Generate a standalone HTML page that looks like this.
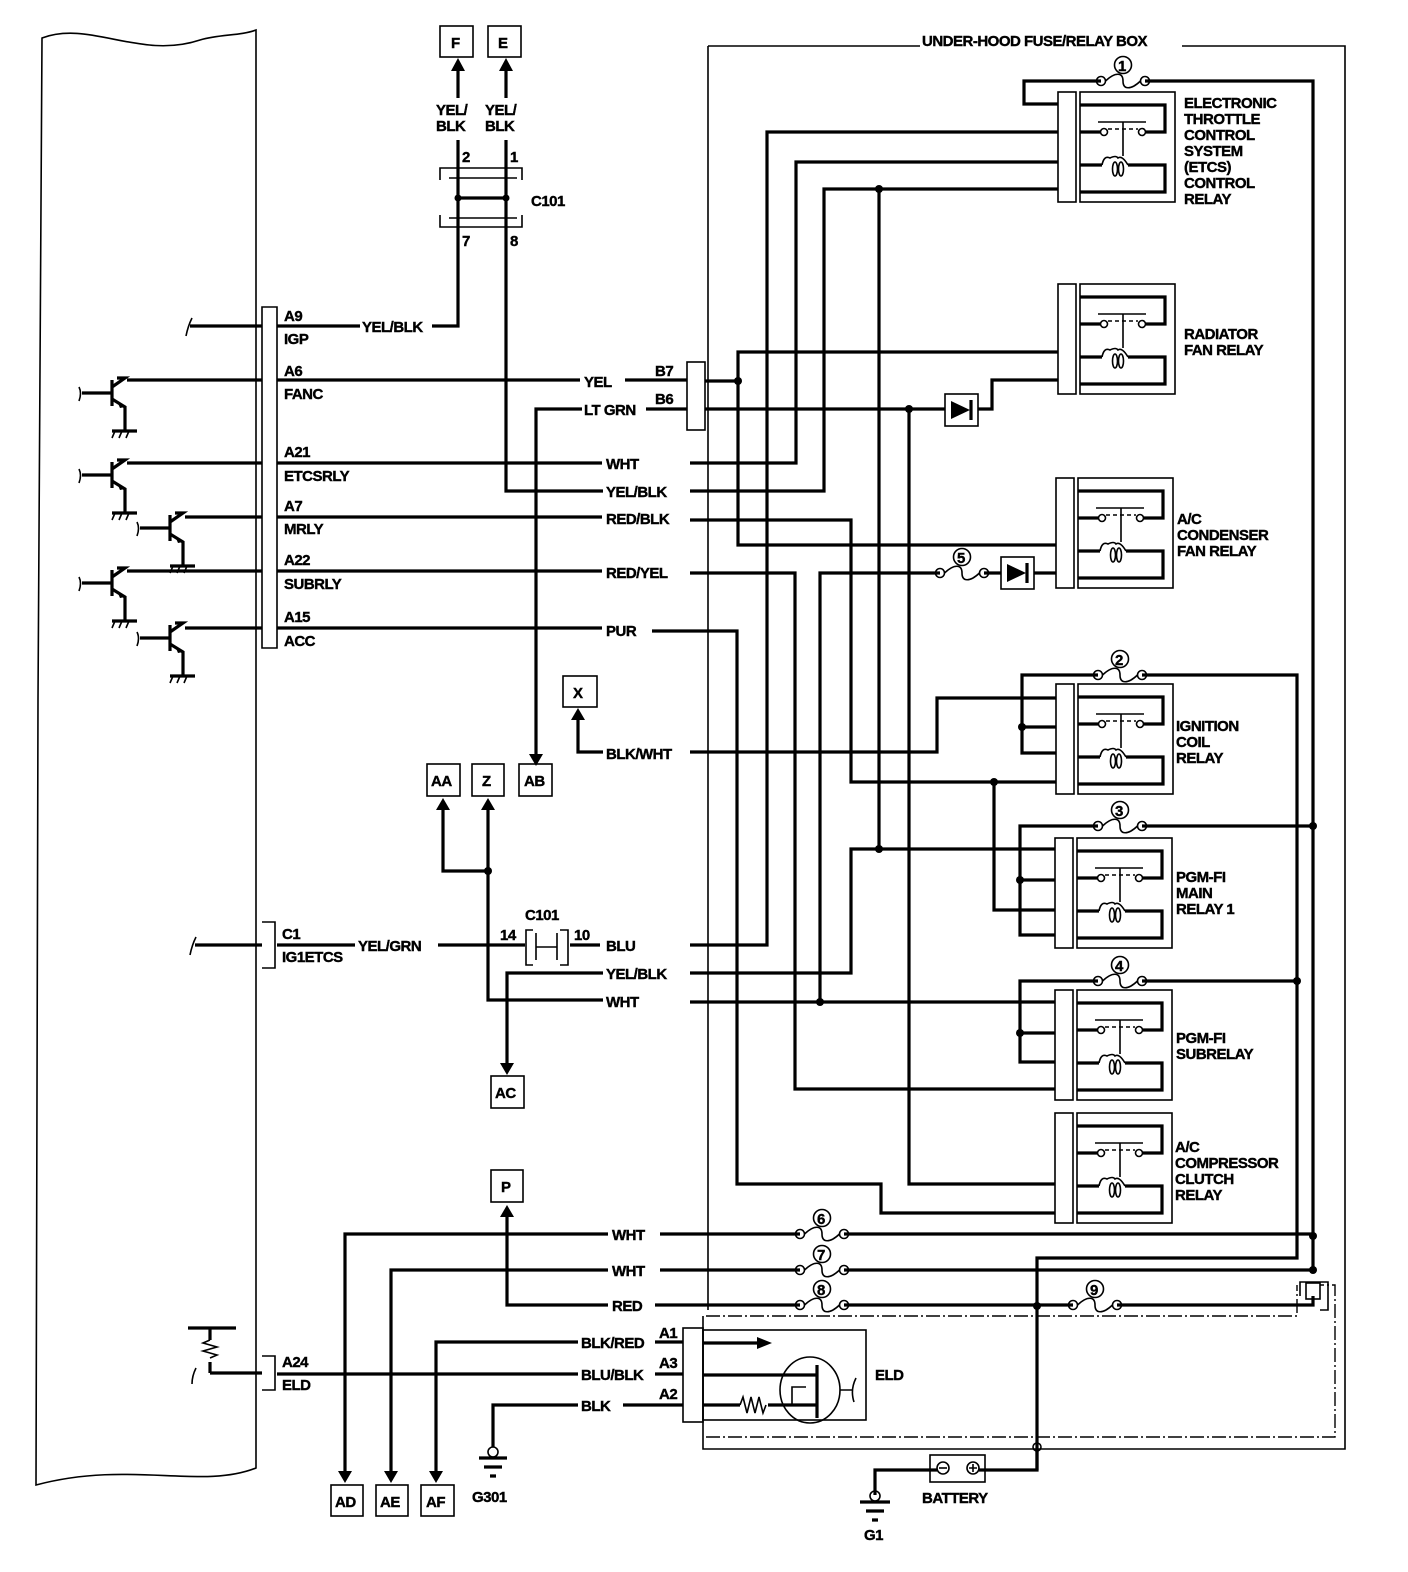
<!DOCTYPE html>
<html><head><meta charset="utf-8"><style>
html,body{margin:0;padding:0;background:#fff}
svg{display:block}
text{font-family:"Liberation Sans",Arial,sans-serif;font-weight:bold;font-size:15px;fill:#000;letter-spacing:-0.5px;stroke:#000;stroke-width:0.4}
.w{stroke:#000;stroke-width:3.2;fill:none}
.t{stroke:#000;stroke-width:1.6;fill:none}
.dd{stroke:#000;stroke-width:1.4;fill:none;stroke-dasharray:14 3 2 3}
</style></head><body>
<svg width="1408" height="1572" viewBox="0 0 1408 1572" xmlns="http://www.w3.org/2000/svg">
<defs>
<g id="relay">
  <rect x="0" y="0" width="18" height="110" class="t" stroke-width="2"/>
  <rect x="22" y="0" width="95" height="110" class="t" stroke-width="2.4"/>
  <path class="w" d="M22 13 H107 V40 H88 M22 40 H42 M22 73 H44 M70 73 H107 V100 H22"/>
  <circle cx="46" cy="40" r="3.5" class="t"/><circle cx="84" cy="40" r="3.5" class="t"/>
  <path class="t" d="M50 37 H80" stroke-dasharray="4 3"/>
  <path class="t" d="M40 30 H88 M65 30 V64"/>
  <path class="t" d="M44 73 Q46 63 52 66 Q58 63 60 66 Q64 63 70 73"/>
  <ellipse cx="57" cy="77" rx="2.5" ry="7" class="t"/><ellipse cx="63" cy="77" rx="2.5" ry="7" class="t"/>
</g>
<g id="fuse">
  <circle cx="0" cy="0" r="4.5" fill="#fff" class="t" stroke-width="2"/>
  <circle cx="44" cy="0" r="4.5" fill="#fff" class="t" stroke-width="2"/>
  <path class="t" stroke-width="2" d="M4.5 0 C14 -9 22 -9 22 0 C22 9 30 9 39.5 0"/>
  <circle cx="22" cy="-16" r="8.5" fill="#fff" class="t"/>
</g>
<g id="diode">
  <rect x="0" y="0" width="33" height="32" class="t" fill="#fff"/>
  <path d="M6 7 L25 16 L6 25 Z" fill="#000"/>
  <path class="w" d="M26 6 V26"/>
</g>
<g id="tr">
  <path class="w" d="M-35 0 H-5 M-5 -13 V13 M-5 -6 L8 -15 H0"/>
  <path class="t" d="M-38 -6 Q-35 0 -38 8"/>
  <path class="w" d="M-5 6 L8 14 V38"/>
  <path d="M8 14 L0 8 L3 15 Z" fill="#000"/>
  <path class="w" d="M-5 38 H20"/>
  <path class="t" d="M-2 38 L-5 45 M5 38 L2 45 M12 38 L9 45"/>
</g>
</defs>

<path class="t" d="M42 38 C90 20 140 60 200 40 C220 34 240 36 256 30 V1468 C200 1490 130 1460 36 1485 L38 700 Z"/>

<path class="t" d="M262 307 H277 V648 H262 Z"/>
<path class="t" d="M262 922 H275 V968 H262"/>
<path class="t" d="M262 1356 H275 V1390 H262"/>

<path class="w" d="M190 326 H262"/><path class="t" d="M192 318 Q188 326 186 336"/>
<use href="#tr" x="117" y="393"/><path class="w" d="M127 380 H262"/>
<use href="#tr" x="117" y="475"/><path class="w" d="M127 463 H262"/>
<use href="#tr" x="175" y="528"/><path class="w" d="M185 517 H262"/>
<use href="#tr" x="117" y="583"/><path class="w" d="M127 571 H262"/>
<use href="#tr" x="175" y="638"/><path class="w" d="M185 628 H262"/>
<path class="w" d="M195 945 H262"/><path class="t" d="M196 937 Q192 945 190 955"/>
<path class="w" d="M210 1373 H262 M210 1328 V1340 M210 1362 V1373 M188 1328 H236"/>
<path class="t" d="M210 1340 l-7 3 l14 4 l-14 4 l14 4 l-7 3"/>
<path class="t" d="M196 1368 Q192 1376 192 1384"/>

<text x="284" y="321">A9</text><text x="284" y="344">IGP</text>
<text x="284" y="376">A6</text><text x="284" y="399">FANC</text>
<text x="284" y="457">A21</text><text x="284" y="481">ETCSRLY</text>
<text x="284" y="511">A7</text><text x="284" y="534">MRLY</text>
<text x="284" y="565">A22</text><text x="284" y="589">SUBRLY</text>
<text x="284" y="622">A15</text><text x="284" y="646">ACC</text>
<text x="282" y="939">C1</text><text x="282" y="962">IG1ETCS</text>
<text x="282" y="1367">A24</text><text x="282" y="1390">ELD</text>

<path class="w" d="M277 326 H360 M432 326 H458 V240 M458 168 V140 M458 98 V70"/><text x="362" y="332">YEL/BLK</text>
<path class="w" d="M506 240 V491 H603 M506 70 V98 M506 140 V168"/>
<path class="w" d="M277 380 H580 M625 380 H687"/><text x="584" y="387">YEL</text>
<path class="w" d="M536 757 V409 H582 M646 409 H687"/><text x="584" y="415">LT GRN</text>
<path class="w" d="M277 463 H602"/><text x="606" y="469">WHT</text>
<text x="606" y="497">YEL/BLK</text>
<path class="w" d="M277 517 H602"/><text x="606" y="524">RED/BLK</text>
<path class="w" d="M277 571 H602"/><text x="606" y="578">RED/YEL</text>
<path class="w" d="M277 628 H602"/><text x="606" y="636">PUR</text>
<path d="M451 71 L458 58 L465 71 Z M499 71 L506 58 L513 71 Z" fill="#000"/>

<rect x="440" y="26" width="33" height="31" class="t" stroke-width="2"/><text x="451" y="48">F</text>
<rect x="488" y="26" width="33" height="31" class="t" stroke-width="2"/><text x="498" y="48">E</text>
<text x="436" y="115">YEL/</text><text x="436" y="131">BLK</text>
<text x="485" y="115">YEL/</text><text x="485" y="131">BLK</text>
<text x="462" y="162">2</text><text x="510" y="162">1</text>
<path class="w" d="M458 168 V240 M506 168 V240 M458 198 H506"/>
<circle cx="458" cy="198" r="3.5"/><circle cx="506" cy="198" r="3.5"/>
<path class="t" d="M440 180 V168 H522 V180 M440 215 V227 H522 V215 M449 178 H517 M449 218 H517"/>
<text x="531" y="206">C101</text>
<text x="462" y="246">7</text><text x="510" y="246">8</text>

<rect x="687" y="362" width="18" height="68" class="t"/>
<text x="655" y="376">B7</text><text x="655" y="404">B6</text>

<text x="922" y="46" font-size="14">UNDER-HOOD FUSE/RELAY BOX</text>
<path class="t" d="M708 46 H920 M1182 46 H1345 V1449 H703 V1316"/>
<path class="t" d="M708 46 V1310"/>
<path class="dd" d="M706 1316 H1297 V1285 M706 1437 H1335 V1285 H1320"/>

<use href="#relay" x="1058" y="92"/>
<use href="#relay" x="1058" y="284"/>
<use href="#relay" x="1056" y="478"/>
<use href="#relay" x="1056" y="684"/>
<use href="#relay" x="1055" y="838"/>
<use href="#relay" x="1055" y="990"/>
<use href="#relay" x="1055" y="1113"/>
<text x="1184" y="108">ELECTRONIC</text><text x="1184" y="124">THROTTLE</text><text x="1184" y="140">CONTROL</text>
<text x="1184" y="156">SYSTEM</text><text x="1184" y="172">(ETCS)</text><text x="1184" y="188">CONTROL</text><text x="1184" y="204">RELAY</text>
<text x="1184" y="339">RADIATOR</text><text x="1184" y="355">FAN RELAY</text>
<text x="1177" y="524">A/C</text><text x="1177" y="540">CONDENSER</text><text x="1177" y="556">FAN RELAY</text>
<text x="1176" y="731">IGNITION</text><text x="1176" y="747">COIL</text><text x="1176" y="763">RELAY</text>
<text x="1176" y="882">PGM-FI</text><text x="1176" y="898">MAIN</text><text x="1176" y="914">RELAY 1</text>
<text x="1176" y="1043">PGM-FI</text><text x="1176" y="1059">SUBRELAY</text>
<text x="1175" y="1152">A/C</text><text x="1175" y="1168">COMPRESSOR</text><text x="1175" y="1184">CLUTCH</text><text x="1175" y="1200">RELAY</text>

<path class="w" d="M1058 104 H1024 V81 H1101 M1145 81 H1313 V1270"/>
<use href="#fuse" x="1101" y="81"/><text x="1118" y="71" font-size="13">1</text>
<path class="w" d="M690 463 H796 V162 H1058"/>
<path class="w" d="M690 491 H824 V189 H1058"/>
<path class="w" d="M879 189 V849"/>
<path class="w" d="M705 381 H738 V352 H1058 M738 381 V545 H1056"/>
<path class="w" d="M705 409 H945 M978 409 H992 V380 H1058"/>
<use href="#diode" x="945" y="394"/>
<path class="w" d="M909 409 V1184 H1055"/>
<path class="w" d="M690 520 H851 V782 H1056"/>
<path class="w" d="M690 573 H795 V1089 H1055"/>
<path class="w" d="M820 1002 V573 H940 M984 573 H1001 M1034 573 H1056"/>
<use href="#fuse" x="940" y="573"/><text x="957" y="563" font-size="13">5</text>
<use href="#diode" x="1001" y="557"/>
<path class="w" d="M652 631 H737 V1184 H881 V1213 H1055"/>
<path class="w" d="M690 752 H937 V698 H1056"/>
<path class="w" d="M994 782 V910 H1055"/>
<path class="w" d="M1098 675 H1022 V753 H1056 M1022 727 H1056 M1142 675 H1297 V1258 H1037 V1470"/>
<use href="#fuse" x="1098" y="675"/><text x="1115" y="665" font-size="13">2</text>
<path class="w" d="M1098 826 H1020 V935 H1055 M1020 880 H1055 M1142 826 H1313"/>
<use href="#fuse" x="1098" y="826"/><text x="1115" y="816" font-size="13">3</text>
<path class="w" d="M1098 981 H1020 V1062 H1055 M1020 1033 H1055 M1142 981 H1297"/>
<use href="#fuse" x="1098" y="981"/><text x="1115" y="971" font-size="13">4</text>
<path class="w" d="M690 945 H767 V132 H1058"/>
<path class="w" d="M690 973 H851 V849 H1055"/>
<path class="w" d="M690 1002 H1055"/>
<g fill="#000">
<circle cx="738" cy="381" r="4"/><circle cx="909" cy="409" r="4"/><circle cx="879" cy="189" r="4"/>
<circle cx="879" cy="849" r="4"/><circle cx="994" cy="782" r="4"/><circle cx="1022" cy="727" r="4"/>
<circle cx="1020" cy="880" r="4"/><circle cx="1020" cy="1033" r="4"/><circle cx="820" cy="1002" r="4"/>
<circle cx="1313" cy="826" r="4"/><circle cx="1297" cy="981" r="4"/><circle cx="1313" cy="1236" r="4"/>
<circle cx="1313" cy="1270" r="4"/><circle cx="1037" cy="1306" r="4"/><circle cx="488" cy="871" r="4"/>
</g>

<rect x="427" y="764" width="33" height="32" class="t" stroke-width="2"/><text x="431" y="786">AA</text>
<rect x="472" y="764" width="32" height="32" class="t" stroke-width="2"/><text x="482" y="786">Z</text>
<rect x="519" y="764" width="33" height="32" class="t" stroke-width="2"/><text x="524" y="786">AB</text>
<path d="M529 754 L536 766 L543 754 Z" fill="#000"/>
<path class="w" d="M443 810 V871 H488 M488 810 V1000 H603"/><text x="606" y="1007">WHT</text>
<path d="M436 810 L443 798 L450 810 Z M481 810 L488 798 L495 810 Z" fill="#000"/>
<rect x="563" y="676" width="34" height="31" class="t" stroke-width="2"/><text x="573" y="698">X</text>
<path class="w" d="M578 720 V752 H603"/><path d="M571 720 L578 708 L585 720 Z" fill="#000"/>
<text x="606" y="759">BLK/WHT</text>
<path class="w" d="M277 945 H355 M438 945 H525 M570 945 H600"/><text x="358" y="951">YEL/GRN</text>
<path class="t" d="M533 930 H526 V965 H533 M560 930 H568 V965 H560 M536 933 V960 M557 933 V960 M536 947 H557"/>
<text x="525" y="920">C101</text><text x="500" y="940">14</text><text x="574" y="940">10</text>
<text x="606" y="951">BLU</text>
<path class="w" d="M507 1065 V973 H603"/><text x="606" y="979">YEL/BLK</text>
<path d="M500 1063 L507 1075 L514 1063 Z" fill="#000"/>
<rect x="491" y="1076" width="33" height="32" class="t" stroke-width="2"/><text x="495" y="1098">AC</text>

<rect x="491" y="1170" width="32" height="32" class="t" stroke-width="2"/><text x="501" y="1192">P</text>
<path class="w" d="M345 1473 V1234 H608 M660 1234 H800 M844 1234 H1313"/><text x="612" y="1240">WHT</text>
<use href="#fuse" x="800" y="1234"/><text x="817" y="1224" font-size="13">6</text>
<path class="w" d="M391 1473 V1270 H608 M660 1270 H800 M844 1270 H1313"/><text x="612" y="1276">WHT</text>
<use href="#fuse" x="800" y="1270"/><text x="817" y="1260" font-size="13">7</text>
<path class="w" d="M507 1215 V1305 H608 M655 1305 H800 M844 1305 H1073 M1117 1305 H1313 V1296"/><text x="612" y="1311">RED</text>
<path d="M500 1217 L507 1205 L514 1217 Z" fill="#000"/>
<use href="#fuse" x="800" y="1305"/><text x="817" y="1295" font-size="13">8</text>
<use href="#fuse" x="1073" y="1305"/><text x="1090" y="1295" font-size="13">9</text>
<path class="t" d="M1300 1296 V1282 H1328 V1310 H1320"/><rect x="1306" y="1283" width="14" height="16" class="t" stroke-width="2"/>
<path class="w" d="M436 1473 V1342 H578 M655 1342 H683"/><text x="581" y="1348">BLK/RED</text>
<path class="w" d="M277 1374 H578 M655 1374 H683"/><text x="581" y="1380">BLU/BLK</text>
<path class="w" d="M493 1447 V1405 H578 M623 1405 H683"/><text x="581" y="1411">BLK</text>
<text x="659" y="1338">A1</text><text x="659" y="1368">A3</text><text x="659" y="1399">A2</text>
<path d="M338 1471 L345 1483 L352 1471 Z M384 1471 L391 1483 L398 1471 Z M429 1471 L436 1483 L443 1471 Z" fill="#000"/>
<rect x="331" y="1485" width="32" height="31" class="t" stroke-width="2"/><text x="335" y="1507">AD</text>
<rect x="376" y="1485" width="32" height="31" class="t" stroke-width="2"/><text x="380" y="1507">AE</text>
<rect x="421" y="1485" width="33" height="31" class="t" stroke-width="2"/><text x="426" y="1507">AF</text>
<circle cx="493" cy="1452" r="5" class="t" stroke-width="2" fill="#fff"/>
<path class="w" d="M479 1458 H507 M484 1467 H502 M490 1476 H496"/>
<text x="472" y="1502">G301</text>

<rect x="683" y="1328" width="20" height="94" class="t"/>
<rect x="703" y="1330" width="163" height="90" class="t"/>
<path class="w" d="M703 1343 H760 M703 1375 H817 M703 1405 H740 M768 1405 H817"/>
<path d="M757 1337 L772 1343 L757 1349 Z" fill="#000"/>
<path class="t" d="M740 1405 l3 -8 l4 16 l4 -16 l4 16 l4 -16 l4 16 l3 -8"/>
<ellipse cx="810" cy="1390" rx="30" ry="33" class="t"/>
<path class="w" d="M817 1365 V1418"/>
<path class="t" d="M792 1405 V1387 H806 M840 1390 H852 M856 1378 Q850 1390 854 1402"/>
<text x="875" y="1380">ELD</text>

<rect x="930" y="1455" width="55" height="27" class="t"/>
<circle cx="943" cy="1468" r="6" class="t"/><path class="t" d="M939 1468 H947"/>
<circle cx="973" cy="1468" r="6" class="t"/><path class="t" d="M969 1468 H977 M973 1464 V1472"/>
<path class="w" d="M979 1470 H1037 V1449 M937 1470 H875 V1495"/>
<circle cx="1037" cy="1447" r="4" fill="#fff" class="t" stroke-width="2"/>
<circle cx="875" cy="1496" r="5" class="t" stroke-width="2" fill="#fff"/>
<path class="w" d="M860 1502 H890 M866 1511 H884 M872 1520 H878"/>
<text x="922" y="1503">BATTERY</text>
<text x="864" y="1540">G1</text>
</svg>
</body></html>
